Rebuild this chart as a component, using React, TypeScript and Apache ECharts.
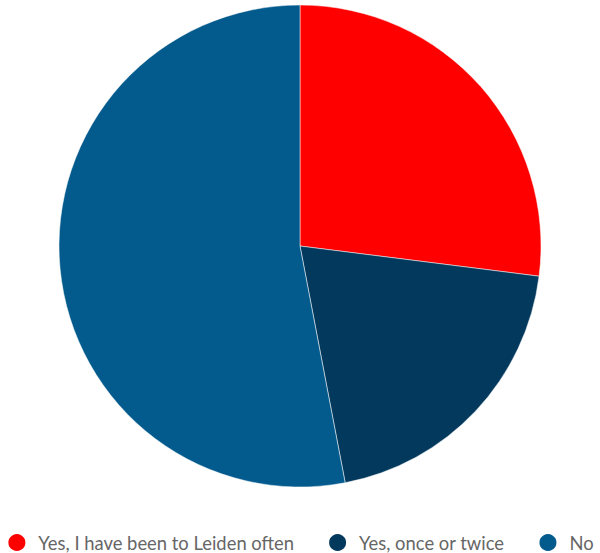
import React, { useEffect, useRef } from "react";
import * as echarts from "echarts";

const categories = ["Yes, I have been to Leiden often", "Yes, once or twice", "No"];
const values = [27, 20, 53];
const colors = ["#ff0000", "#04395e", "#035a8c"];

export default function App() {
  const ref = useRef<HTMLDivElement>(null);
  useEffect(() => {
    if (!ref.current) return;
    const chart = echarts.init(ref.current, undefined, { renderer: "svg" });
    chart.setOption({
      animation: false,
      color: colors,
      legend: {
        data: categories,
        left: "center",
        top: 532,
        padding: 0,
        icon: "circle",
        itemWidth: 19,
        itemHeight: 19,
        itemGap: 33,
        textStyle: {
          fontFamily: "Lato",
          fontSize: 18.4,
          lineHeight: 19,
          color: "#666",
          padding: [0, 0, 0, 7],
        },
      },
      series: [
        {
          type: "pie",
          center: [300, 246],
          radius: 241,
          startAngle: 90,
          clockwise: true,
          label: { show: false },
          labelLine: { show: false },
          itemStyle: { borderColor: "#ffffff", borderWidth: 0.5 },
          emphasis: { disabled: true },
          data: categories.map((c, i) => ({ name: c, value: values[i] })),
        },
      ],
    });
    return () => chart.dispose();
  }, []);
  return (
    <div
      ref={ref}
      style={{ position: "absolute", left: 0, top: 0, width: 600, height: 553 }}
    />
  );
}
